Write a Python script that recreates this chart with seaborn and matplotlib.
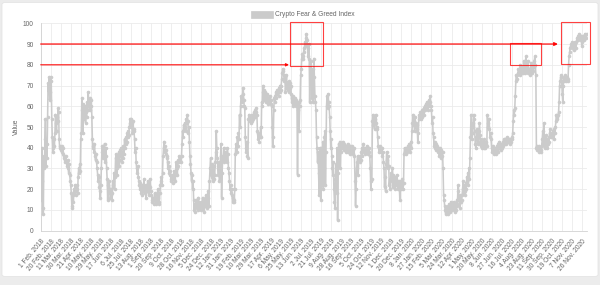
import numpy as np
import pandas as pd
import matplotlib
matplotlib.use("Agg")
import matplotlib.pyplot as plt
import seaborn as sns
from matplotlib.patches import Rectangle, FancyBboxPatch

# ---------------- data ----------------
tick_labels = [
    "1 Feb. 2018", "20 Feb. 2018", "11 Mar. 2018", "30 Mar. 2018", "21 Apr. 2018",
    "10 May. 2018", "29 May. 2018", "17 Jun. 2018", "6 Jul. 2018", "25 Jul. 2018",
    "13 Aug. 2018", "1 Sep. 2018", "20 Sep. 2018", "9 Oct. 2018", "28 Oct. 2018",
    "16 Nov. 2018", "5 Dec. 2018", "24 Dec. 2018", "12 Jan. 2019", "31 Jan. 2019",
    "19 Feb. 2019", "10 Mar. 2019", "29 Mar. 2019", "17 Apr. 2019", "6 May. 2019",
    "25 May. 2019", "13 Jun. 2019", "2 Jul. 2019", "21 Jul. 2019", "9 Aug. 2019",
    "28 Aug. 2019", "16 Sep. 2019", "5 Oct. 2019", "24 Oct. 2019", "12 Nov. 2019",
    "1 Dec. 2019", "20 Dec. 2019", "8 Jan. 2020", "27 Jan. 2020", "15 Feb. 2020",
    "5 Mar. 2020", "24 Mar. 2020", "12 Apr. 2020", "1 May. 2020", "20 May. 2020",
    "8 Jun. 2020", "27 Jun. 2020", "16 Jul. 2020", "4 Aug. 2020", "23 Aug. 2020",
    "11 Sep. 2020", "30 Sep. 2020", "19 Oct. 2020", "7 Nov. 2020", "26 Nov. 2020",
]

fng_2018 = [
    30, 15, 40, 24, 11, 8, 36, 30, 44, 54, 31, 42, 35, 55, 71, 67, 74, 63, 67,
    74, 72, 54, 45, 40, 38, 44, 41, 47, 56, 52, 48, 55, 53, 59, 57, 44, 40, 41,
    40, 39, 41, 38, 40, 37, 35, 36, 33, 34, 36, 33, 31, 34, 30, 28, 32, 27, 24,
    22, 18, 12, 11, 17, 14, 20, 19, 22, 17, 21, 20, 22, 18, 26, 30, 28, 32, 29,
    44, 47, 64, 58, 47, 61, 56, 54, 60, 52, 57, 55, 62, 58, 67, 63, 60, 64, 58,
    60, 63, 55, 44, 41, 40, 38, 42, 36, 34, 37, 33, 30, 27, 24, 26, 21, 19, 16,
    22, 30, 38, 41, 35, 40, 37, 42, 33, 36, 40, 30, 25, 15, 22, 18, 24, 20, 16,
    17, 20, 15, 18, 24, 22, 28, 20, 26, 35, 37, 30, 27, 36, 33, 38, 31, 34, 39,
    36, 40, 33, 38, 35, 41, 37, 44, 40, 42, 45, 43, 47, 45, 48, 46, 50, 52, 54,
    50, 54, 52, 47, 53, 49, 48, 44, 38, 40, 33, 30, 28, 31, 26, 24, 22, 20, 23,
    18, 20, 22, 17, 19, 21, 25, 20, 18, 22, 16, 19, 21, 24, 20, 17, 22, 25, 21,
    19, 17, 15, 14, 16, 13, 15, 18, 16, 14, 13, 15, 17, 20, 16, 13, 14, 18, 22,
    24, 26, 22, 28, 36, 40, 43, 38, 41, 37, 39, 35, 36, 30, 33, 28, 31, 29, 27,
    25, 24, 27, 23, 26, 25, 29, 27, 24, 28, 33, 30, 27, 31, 34, 33, 36, 34, 35,
    33, 36, 42, 48, 45, 51, 49, 52, 50, 48, 54, 52, 56, 53, 47, 50, 43, 36, 32,
    28, 24, 27, 20, 24, 15, 10, 13, 9, 12, 15, 11, 13, 10, 16, 12, 14, 11, 13,
    10, 14, 12, 16, 11, 13, 9, 15, 12, 17, 14, 11, 13, 19, 16, 12, 24, 30, 35,
    30, 26, 32, 24, 28, 31, 25, 27,
]

fng_2019 = [
    33, 38, 48, 40, 35, 30, 27, 33, 24, 29, 36,
    42, 16, 28, 34, 36, 40, 33, 35, 38, 34, 36, 33, 40, 37, 30, 28, 24, 20, 22,
    18, 20, 17, 14, 16, 15, 14, 20, 37, 40, 42, 38, 45, 41, 47, 44, 56, 50, 60,
    65, 64, 62, 66, 69, 63, 60, 59, 45, 40, 38, 43, 36, 35, 54, 56, 53, 55, 52,
    54, 56, 53, 55, 54, 57, 56, 55, 58, 57, 59, 56, 48, 44, 47, 43, 46, 45, 50,
    45, 62, 60, 67, 70, 68, 63, 65, 67, 62, 64, 63, 66, 61, 64, 62, 65, 63, 61,
    63, 60, 50, 41, 45, 58, 64, 62, 65, 67, 64, 66, 68, 67, 65, 69, 67, 70, 68,
    70, 73, 76, 78, 77, 75, 72, 74, 67, 69, 75, 71, 70, 68, 72, 67, 69, 71, 70,
    66, 62, 64, 65, 60, 63, 61, 64, 62, 60, 63, 61, 27, 58, 62, 48, 60, 63, 75,
    78, 83, 85, 84, 83, 88, 86, 91, 89, 93, 95, 92, 88, 84, 83, 90, 62, 80, 75,
    82, 70, 64, 78, 62, 83, 74, 65, 62, 58, 45, 40, 33, 38, 28, 17, 40, 32, 15,
    40, 22, 35, 43, 20, 30, 45, 48, 22, 38, 60, 65, 59, 66, 62, 60, 55, 48, 40,
    44, 36, 30, 27, 33, 20, 14, 11, 25, 32, 18, 40, 5, 28, 42, 38, 43, 30, 40,
    38, 42, 40, 43, 41, 39, 42, 40, 38, 41, 39, 40, 42, 38, 40, 39, 41, 37, 40,
    40, 38, 41, 39, 37, 40, 36, 24, 12, 20, 30, 33, 36, 27, 34, 35, 33, 36, 34,
    38, 40, 36, 39, 42, 38, 40, 37, 39, 40, 38, 41, 39, 37, 40, 38, 36, 30, 20,
    24, 25, 53, 56, 51, 55, 49, 54, 52, 56, 50, 49, 45, 41, 40, 38, 41, 39, 40,
    38, 40, 36, 38, 33, 30, 21, 26, 19, 32, 38, 34, 30, 36, 31, 22, 25, 20, 26,
    28, 24, 30, 21, 27, 23, 26, 20, 25, 22, 27, 24, 21, 20, 24, 22, 15, 21, 24,
    20, 22, 25, 20, 23, 37, 40, 38, 39, 37, 40, 38,
]

fng_2020 = [
    41, 39, 40, 42, 38, 41, 43,
    40, 48, 52, 56, 51, 53, 48, 55, 50, 52, 49, 51, 43, 47, 54, 56, 55, 57, 54,
    56, 58, 55, 57, 59, 56, 60, 58, 61, 59, 62, 60, 58, 61, 63, 60, 65, 62, 60,
    58, 52, 55, 47, 45, 41, 43, 40, 42, 39, 41, 40, 38, 40, 39, 36, 40, 38, 35,
    39, 36, 38, 30, 17, 15, 12, 10, 8, 9, 11, 10, 8, 12, 10, 13, 9, 11, 14,
    12, 10, 13, 11, 14, 12, 9, 11, 13, 10, 15, 12, 19, 22, 16, 13, 11, 17, 14,
    15, 17, 20, 24, 18, 22, 19, 17, 23, 20, 26, 24, 28, 22, 30, 25, 35, 45, 56,
    50, 44, 47, 52, 56, 54, 48, 42, 40, 45, 44, 49, 42, 43, 48, 52, 46, 41, 44,
    42, 40, 41, 43, 40, 44, 41, 40, 42, 43, 41, 56, 52, 50, 54, 49, 45, 47, 44,
    40, 38, 39, 41, 37, 40, 39, 38, 40, 37, 41, 39, 42, 38, 41, 43, 40, 39, 41,
    42, 40, 43, 41, 44, 42, 43, 44, 42, 44, 43, 45, 44, 43, 44, 42, 44, 43, 44,
    44, 45, 47, 53, 58, 56, 59, 65, 72, 75, 73, 75, 76, 78, 77, 75, 80, 78, 76,
    77, 79, 76, 78, 82, 77, 76, 79, 84, 78, 77, 79, 82, 76, 78, 77, 75, 79, 81,
    78, 76, 80, 77, 79, 82, 84, 80, 75, 40, 41, 39, 40, 38, 41, 39, 40, 38, 39,
    41, 44, 48, 42, 52, 45, 40, 43, 46, 41, 44, 40, 42, 45, 43, 47, 49, 45, 46,
    47, 45, 48, 46, 44, 49, 47, 50, 53, 56, 54, 55, 56, 57, 62, 70, 72, 74, 75,
    72, 66, 62, 70, 74, 72, 73, 75, 72, 73, 74, 72, 73, 80, 84, 86, 88, 89, 90,
    89, 91, 88, 90, 87, 89, 91, 90, 88, 91, 93, 92, 94, 93, 95, 94, 93, 92, 94,
    89, 91, 93, 94, 92, 94, 95, 94, 93, 95,
]

series_name = "Crypto Fear & Greed Index"
values = fng_2018 + fng_2019 + fng_2020
df = pd.DataFrame({"day": np.arange(len(values)), "value": values})

# ---------------- style ----------------
sns.set_theme(style="white")
plt.rcParams["font.family"] = ["Liberation Sans", "DejaVu Sans"]

W, H = 600, 285
fig = plt.figure(figsize=(W / 100, H / 100), dpi=100)
fig.patch.set_facecolor("#ececec")
card = FancyBboxPatch((2 / W, 8.5 / H), 596 / W, (282.5 - 8.5) / H,
                      boxstyle="round,pad=0,rounding_size=0.006",
                      transform=fig.transFigure, facecolor="white",
                      edgecolor="#e2e2e2", linewidth=0.5, zorder=-10)
fig.patches.append(card)

ax = fig.add_axes([40.7 / W, (H - 230.7) / H, (586.5 - 40.7) / W, (230.7 - 23.3) / H])
ax.set_facecolor("none")
ax.set_zorder(2)

line_gray = "#cbcbcb"
sns.lineplot(data=df, x="day", y="value", ax=ax, color=line_gray, linewidth=1.15,
             marker="o", markersize=2.6, markeredgewidth=0, markerfacecolor=line_gray,
             legend=False, zorder=3)

n = len(values)
ax.set_xlim(0, n - 1)
ax.set_ylim(0, 100)
ax.set_yticks(range(0, 101, 10))
ax.set_xticks(list(range(0, n, 19))[:len(tick_labels)])
ax.set_xticklabels(tick_labels, rotation=50, ha="right", va="top",
                   rotation_mode="anchor")
ax.tick_params(axis="both", length=4, width=0.6, color="#e6e6e6", pad=1,
               labelsize=4.75, labelcolor="#666666")
ax.grid(True, color="#ebebeb", linewidth=0.6, zorder=0)
for s in ["top", "right"]:
    ax.spines[s].set_visible(False)
for s in ["left", "bottom"]:
    ax.spines[s].set_color("#d2d2d2")
    ax.spines[s].set_linewidth(0.6)
ax.set_xlabel("")
ax.set_ylabel("Value", fontsize=4.75, color="#666666")
ax.yaxis.set_label_coords((19.5 - 40.7) / (586.5 - 40.7), 0.5)

# legend (Chart.js style, top centre)
fig.patches.append(Rectangle((250.7 / W, (H - 17.7) / H), 22 / W, 6.4 / H,
                             transform=fig.transFigure, facecolor=line_gray,
                             edgecolor=line_gray, linewidth=0.5, zorder=5))
fig.text(275 / W, (H - 14.6) / H, series_name, ha="left", va="center",
         fontsize=4.75, color="#666666", zorder=5)

# ---------------- red annotations ----------------
red = "#ff0000"
boxes = [(473, 79.6, 535, 100.5), (890, 79.9, 949, 90.5), (986, 80.2, 1042, 100.5)]
for x0, y0, x1, y1 in boxes:
    ax.add_patch(Rectangle((x0, y0), x1 - x0, y1 - y0, fill=False, edgecolor=red,
                           linewidth=0.8, alpha=0.75, clip_on=False, zorder=5))
ax.annotate("", xy=(471, 80), xytext=(0, 80), annotation_clip=False,
            arrowprops=dict(arrowstyle="-|>", color=red, lw=0.9, alpha=0.85,
                            mutation_scale=4, shrinkA=0, shrinkB=0), zorder=6)
ax.annotate("", xy=(981, 90), xytext=(0, 90), annotation_clip=False,
            arrowprops=dict(arrowstyle="-|>", color=red, lw=1.0, alpha=0.85,
                            mutation_scale=5, shrinkA=0, shrinkB=0), zorder=6)

fig.savefig("out.png", dpi=100, facecolor=fig.get_facecolor())
